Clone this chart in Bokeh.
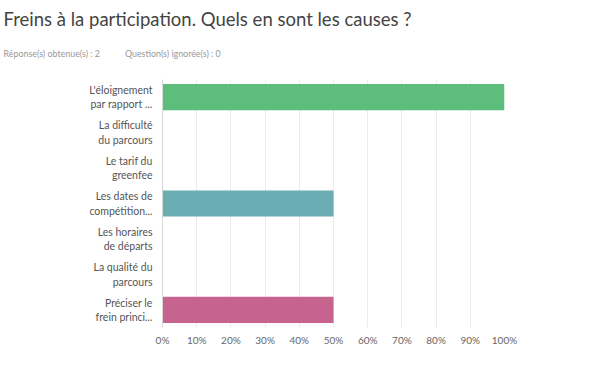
from bokeh.plotting import figure
from bokeh.models import FactorRange, FixedTicker, PrintfTickFormatter, Title, ColumnDataSource
from bokeh.embed import file_html
from bokeh.resources import INLINE

title_text = "Freins à la participation. Quels en sont les causes ?"
subtitle_text = "Réponse(s) obtenue(s) : 2" + "\u00a0" * 11 + "Question(s) ignorée(s) : 0"
categories = [
    "L'éloignement\npar rapport ...",
    "La difficulté\ndu parcours",
    "Le tarif du\ngreenfee",
    "Les dates de\ncompétition...",
    "Les horaires\nde départs",
    "La qualité du\nparcours",
    "Préciser le\nfrein princi...",
]
values = [100, 0, 0, 50, 0, 0, 50]
colors = ["#5cbe7a", "#5cbe7a", "#5cbe7a", "#6aaeb4", "#6aaeb4", "#c6648f", "#c6648f"]
x_ticks = [0, 10, 20, 30, 40, 50, 60, 70, 80, 90, 100]

src = ColumnDataSource(dict(cat=categories, val=values, color=colors))

p = figure(width=584, height=359, output_backend="svg", toolbar_location=None,
           y_range=FactorRange(factors=list(reversed(categories)), range_padding=0),
           x_range=(0, 100), title=title_text,
           min_border_left=162, min_border_right=80, min_border_top=79, min_border_bottom=32)

p.hbar(y="cat", right="val", left=0, height=0.74, color="color", source=src, line_color=None)

p.title.text_font = "Lato"
p.title.text_font_size = "18.5px"
p.title.text_font_style = "normal"
p.title.text_color = "#444444"
p.title.align = "left"
p.title.offset = -159
p.title.standoff = -8

sub = Title(text=subtitle_text, text_font="Lato", text_font_size="8.9px", text_font_style="normal",
            text_color="#999999", align="left", offset=-159, standoff=41)
p.add_layout(sub, "above")

p.outline_line_color = None
p.background_fill_color = "white"
p.border_fill_color = "white"

p.xaxis.ticker = FixedTicker(ticks=x_ticks)
p.xaxis.formatter = PrintfTickFormatter(format="%d%%")
p.xaxis.axis_line_color = None
p.xaxis.major_tick_line_color = None
p.xaxis.minor_tick_line_color = None
p.xaxis.major_tick_out = 0
p.xaxis.major_tick_in = 0
p.xaxis.major_label_text_font = "Lato"
p.xaxis.major_label_text_font_size = "10px"
p.xaxis.major_label_text_color = "#666666"
p.xaxis.major_label_standoff = 6

p.yaxis.axis_line_color = "#d8d8d8"
p.yaxis.major_tick_line_color = None
p.yaxis.minor_tick_line_color = None
p.yaxis.major_tick_out = 0
p.yaxis.major_tick_in = 0
p.yaxis.major_label_text_font = "Lato"
p.yaxis.major_label_text_font_size = "10.5px"
p.yaxis.major_label_text_color = "#555555"
p.yaxis.major_label_standoff = 10
p.yaxis.major_label_text_align = "right"

p.xgrid.ticker = FixedTicker(ticks=x_ticks)
p.xgrid.grid_line_color = "#ebebeb"
p.ygrid.grid_line_color = None

open("out.html", "w").write(file_html(p, INLINE))
